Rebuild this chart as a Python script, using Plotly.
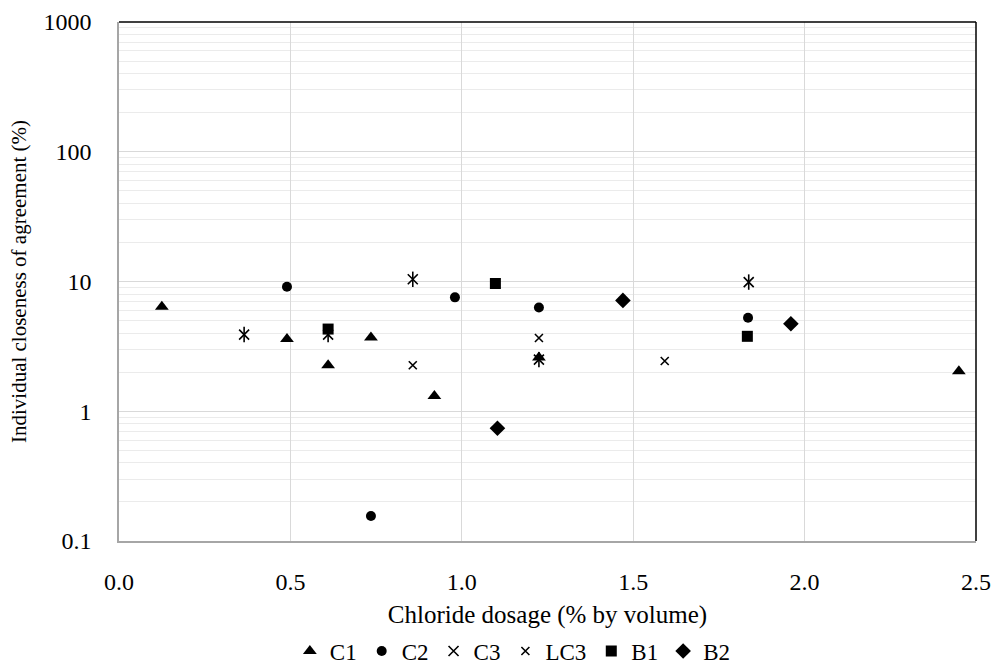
import plotly.graph_objects as go

c1_x = [0.125, 0.49, 0.61, 0.735, 0.92, 1.225, 2.45]
c1_y = [6.4, 3.6, 2.26, 3.7, 1.31, 2.6, 2.03]
c2_x = [0.49, 0.735, 0.98, 1.225, 1.835]
c2_y = [9.1, 0.156, 7.55, 6.3, 5.25]
c3_x = [0.365, 0.61, 0.857, 1.225, 1.837]
c3_y = [3.9, 3.9, 10.4, 2.5, 9.9]
lc3_x = [0.857, 1.225, 1.592]
lc3_y = [2.26, 3.67, 2.44]
b1_x = [0.61, 1.098, 1.833]
b1_y = [4.3, 9.65, 3.78]
b2_x = [1.104, 1.47, 1.96]
b2_y = [0.74, 7.15, 4.72]

x_ticks = [0.0, 0.5, 1.0, 1.5, 2.0, 2.5]
x_tick_labels = ["0.0", "0.5", "1.0", "1.5", "2.0", "2.5"]
y_ticks = [0.1, 1, 10, 100, 1000]
y_tick_labels = ["0.1", "1", "10", "100", "1000"]

FONT = "Liberation Serif"
BLACK = "#000000"

fig = go.Figure()

def add(name, xs, ys, symbol, size, line=False):
    fig.add_trace(go.Scatter(
        x=xs, y=ys, mode="markers", name=name, legendgroup=name,
        marker=dict(symbol=symbol, size=size, color=BLACK,
                    line=dict(color=BLACK, width=1.6 if line else 0)),
    ))

add("C1", c1_x, c1_y, "triangle-up", 12)
add("C2", c2_x, c2_y, "circle", 10)
add("C3", c3_x, c3_y, "x-thin-open", 10, line=True)
fig.add_trace(go.Scatter(
    x=c3_x, y=c3_y, mode="markers", name="C3", legendgroup="C3", showlegend=False,
    marker=dict(symbol="line-ns-open", size=11, color=BLACK, line=dict(color=BLACK, width=1.6)),
))
add("LC3", lc3_x, lc3_y, "x-thin-open", 8, line=True)
add("B1", b1_x, b1_y, "square", 11)
add("B2", b2_x, b2_y, "diamond", 12)

fig.update_layout(
    width=992, height=667,
    margin=dict(l=119, r=16, t=22, b=126, autoexpand=False),
    paper_bgcolor="white", plot_bgcolor="white",
    font=dict(family=FONT, size=24, color="#000"),
    showlegend=True,
    legend=dict(orientation="h", xref="container", yref="container",
                x=0.517, xanchor="center", y=0.024, yanchor="middle",
                font=dict(family=FONT, size=23), itemwidth=30, tracegroupgap=0),
    xaxis=dict(
        range=[0, 2.5], tickvals=x_ticks, ticktext=x_tick_labels,
        tickfont=dict(size=24), automargin=False,
        showgrid=True, gridcolor="#d9d9d9", gridwidth=1,
        showline=True, linecolor="#a6a6a6", linewidth=1.5,
        ticks="", ticklabelstandoff=18, zeroline=False,
        title=dict(text="Chloride dosage (% by volume)", standoff=18,
                   font=dict(family=FONT, size=25)),
    ),
    yaxis=dict(
        type="log", range=[-1, 3], tickvals=y_ticks, ticktext=y_tick_labels,
        tickfont=dict(size=24), automargin=False,
        showgrid=True, gridcolor="#d9d9d9", gridwidth=1.3,
        minor=dict(showgrid=True, gridcolor="#ebebeb", gridwidth=1, dtick="D1", ticks=""),
        showline=True, linecolor="#a6a6a6", linewidth=1.5,
        ticks="", ticklabelstandoff=21, zeroline=False,
        title=dict(text="Individual closeness of agreement (%)", standoff=11,
                   font=dict(family=FONT, size=21)),
    ),
    shapes=[
        dict(type="line", xref="paper", yref="paper", x0=0, x1=1, y0=1, y1=1,
             line=dict(color="#000", width=1.5)),
        dict(type="line", xref="paper", yref="paper", x0=1, x1=1, y0=0, y1=1,
             line=dict(color="#000", width=1.5)),
    ],
)

fig.write_html("out.html")
